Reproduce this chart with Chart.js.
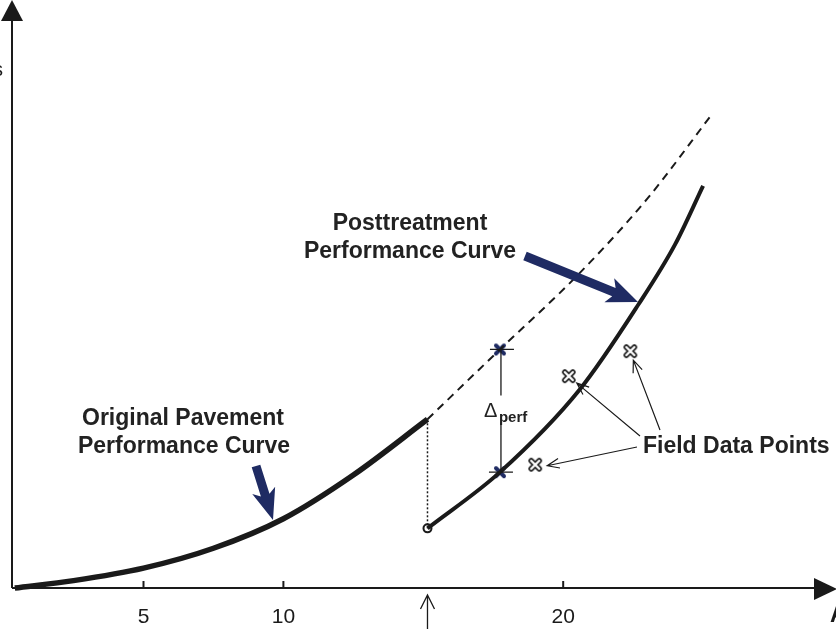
<!DOCTYPE html>
<html><head><meta charset="utf-8">
<script src="https://cdn.jsdelivr.net/npm/chart.js@4.4.0/dist/chart.umd.min.js"></script>
<style>html,body{margin:0;padding:0;background:#fff;}canvas{display:block;}</style>
</head><body>
<canvas id="c" width="836" height="629"></canvas>
<script>
// ---- data ----
const originalAge = [0.4, 2.5, 5, 7.5, 10, 12.5, 15.15];
const originalCondition = [0, 1.3, 3.5, 7.0, 12.2, 19.9, 29.7];
const extendedAge = [15.15, 17.74, 20.5, 23.0, 25.3];
const extendedCondition = [29.7, 42.0, 55.0, 68.5, 83.3];
const postAge = [15.15, 17.74, 20.6, 22.7, 24.0, 25.0];
const postCondition = [10.5, 20.4, 35.0, 50.0, 60.5, 70.8];
const fieldAge = [20.2, 22.4, 19.0];
const fieldCondition = [37.3, 41.7, 21.7];
const deltaAge = [17.74, 17.74];
const deltaCondition = [42.0, 20.4];
const tickValues = [5, 10, 20];
const tickLabels = ['5', '10', '20'];
const treatmentAge = 15.15;
const treatmentDrop = [29.7, 10.5];

const INK = '#1a1a1a';
const NAVY = '#1f2b63';
const FONT = '"Liberation Sans", Arial, Helvetica, sans-serif';

function pts(xs, ys){ return xs.map((x,i)=>({x:x, y:ys[i]})); }

function crossImage(fill, outline){
  const c = document.createElement('canvas'); c.width = 16; c.height = 16;
  const g = c.getContext('2d'); g.lineCap = 'round';
  const draw = (w, col)=>{ g.strokeStyle = col; g.lineWidth = w; g.beginPath();
    g.moveTo(4,4); g.lineTo(12,12); g.moveTo(12,4); g.lineTo(4,12); g.stroke(); };
  if (outline){ draw(5.5, outline); draw(2.4, fill); } else { draw(4, fill); }
  return c;
}
const fieldMarker = crossImage('#ffffff', INK);
const deltaMarker = crossImage(NAVY, null);

function fatArrow(ctx, x0, y0, x1, y1, shaft, headW, headL){
  const a = Math.atan2(y1-y0, x1-x0), L = Math.hypot(x1-x0, y1-y0);
  ctx.save(); ctx.translate(x0, y0); ctx.rotate(a); ctx.fillStyle = NAVY;
  ctx.beginPath();
  ctx.moveTo(0, -shaft/2); ctx.lineTo(L-headL, -shaft/2); ctx.lineTo(L-headL-5, -headW/2);
  ctx.lineTo(L, 0); ctx.lineTo(L-headL-5, headW/2); ctx.lineTo(L-headL, shaft/2);
  ctx.lineTo(0, shaft/2); ctx.closePath(); ctx.fill(); ctx.restore();
}
function openArrow(ctx, x0, y0, x1, y1, len, ang){
  const a = Math.atan2(y1-y0, x1-x0);
  ctx.beginPath(); ctx.moveTo(x0, y0); ctx.lineTo(x1, y1);
  ctx.moveTo(x1 - len*Math.cos(a-ang), y1 - len*Math.sin(a-ang)); ctx.lineTo(x1, y1);
  ctx.lineTo(x1 - len*Math.cos(a+ang), y1 - len*Math.sin(a+ang)); ctx.stroke();
}

const axesPlugin = {
  id: 'axesPlugin',
  beforeDatasetsDraw(chart){
    const {ctx, chartArea:a, scales:{x, y}} = chart;
    ctx.save();
    ctx.strokeStyle = INK; ctx.fillStyle = INK; ctx.lineWidth = 2;
    ctx.beginPath(); ctx.moveTo(a.left, a.bottom); ctx.lineTo(a.left, a.top); ctx.stroke();
    ctx.beginPath(); ctx.moveTo(a.left, a.top-20); ctx.lineTo(a.left-11, a.top+1); ctx.lineTo(a.left+11, a.top+1); ctx.closePath(); ctx.fill();
    ctx.beginPath(); ctx.moveTo(a.left, a.bottom); ctx.lineTo(a.right, a.bottom); ctx.stroke();
    ctx.beginPath(); ctx.moveTo(a.right+22, a.bottom+1); ctx.lineTo(a.right-1, a.bottom-10); ctx.lineTo(a.right-1, a.bottom+12); ctx.closePath(); ctx.fill();
    ctx.font = '21px ' + FONT; ctx.textAlign = 'center'; ctx.textBaseline = 'alphabetic';
    tickValues.forEach((v,i)=>{
      const px = x.getPixelForValue(v);
      ctx.beginPath(); ctx.moveTo(px, a.bottom); ctx.lineTo(px, a.bottom-7); ctx.stroke();
      ctx.fillText(tickLabels[i], px, a.bottom+35);
    });
    const tx = x.getPixelForValue(treatmentAge);
    ctx.lineWidth = 1.3;
    ctx.beginPath(); ctx.moveTo(tx, 629); ctx.lineTo(tx, a.bottom+7);
    ctx.moveTo(tx-7, a.bottom+21); ctx.lineTo(tx, a.bottom+7); ctx.lineTo(tx+7, a.bottom+21); ctx.stroke();
    ctx.font = 'bold 23px ' + FONT;
    ctx.textAlign = 'left'; ctx.fillText('Age', a.right+15, a.bottom+34);
    ctx.textAlign = 'right'; ctx.font = '20px ' + FONT; ctx.fillText('Distress', 3, 76);
    ctx.restore();
  },
  afterDatasetsDraw(chart){
    const {ctx, scales:{x, y}} = chart;
    ctx.save();
    ctx.fillStyle = '#222'; ctx.strokeStyle = INK;
    ctx.textAlign = 'center'; ctx.textBaseline = 'alphabetic';
    ctx.font = 'bold 23px ' + FONT;
    ctx.fillText('Posttreatment', 410, 230);
    ctx.fillText('Performance Curve', 410, 258);
    ctx.fillText('Original Pavement', 183, 425);
    ctx.fillText('Performance Curve', 184, 453);
    ctx.textAlign = 'left';
    ctx.fillText('Field Data Points', 643, 453);

    fatArrow(ctx, 525, 256, 638, 302, 9, 26, 26);
    fatArrow(ctx, 256, 466, 273, 520, 9, 24, 26);

    const dx = x.getPixelForValue(deltaAge[0]);
    const yTop = y.getPixelForValue(deltaCondition[0]);
    const yBot = y.getPixelForValue(deltaCondition[1]);
    ctx.lineWidth = 1.3;
    ctx.beginPath();
    ctx.moveTo(dx-10, yTop); ctx.lineTo(dx+14, yTop);
    ctx.moveTo(dx-11, yBot); ctx.lineTo(dx+13, yBot);
    ctx.moveTo(dx+1, yTop); ctx.lineTo(dx+1, yTop+46);
    ctx.moveTo(dx+1, yBot-50); ctx.lineTo(dx+1, yBot);
    ctx.stroke();
    ctx.font = '20px ' + FONT; ctx.textAlign = 'left';
    ctx.fillText('\u0394', dx-16, yTop+68);
    ctx.font = 'bold 15px ' + FONT;
    ctx.fillText('perf', dx-1, yTop+73);

    ctx.lineWidth = 1.2;
    const fp = fieldAge.map((v,i)=>({px:x.getPixelForValue(v), py:y.getPixelForValue(fieldCondition[i])}));
    openArrow(ctx, 640, 436, fp[0].px+8, fp[0].py+7, 13, 0.38);
    openArrow(ctx, 660, 430, fp[1].px+3, fp[1].py+9, 13, 0.38);
    openArrow(ctx, 637, 447, fp[2].px+12, fp[2].py+1, 13, 0.38);
    ctx.restore();
  }
};

new Chart(document.getElementById('c'), {
  type: 'scatter',
  data: { datasets: [
    { data: pts(originalAge, originalCondition), showLine: true, borderColor: INK, borderWidth: 5.5,
      pointRadius: 0, cubicInterpolationMode: 'monotone', clip: false },
    { data: pts(extendedAge, extendedCondition), showLine: true, borderColor: INK, borderWidth: 2,
      borderDash: [8, 6], pointRadius: 0, cubicInterpolationMode: 'monotone', clip: false },
    { data: pts(postAge, postCondition), showLine: true, borderColor: INK, borderWidth: 4,
      pointRadius: 0, cubicInterpolationMode: 'monotone', clip: false },
    { data: pts([treatmentAge, treatmentAge], treatmentDrop), showLine: true, borderColor: INK, borderWidth: 1.5,
      borderDash: [2, 2], pointRadius: 0, clip: false },
    { data: pts([treatmentAge], [treatmentDrop[1]]), pointStyle: 'circle', pointRadius: 4,
      backgroundColor: '#fff', borderColor: INK, borderWidth: 2, clip: false },
    { data: pts(deltaAge, deltaCondition), pointStyle: deltaMarker, pointRadius: 8, clip: false },
    { data: pts(fieldAge, fieldCondition), pointStyle: fieldMarker, pointRadius: 8, clip: false }
  ]},
  options: {
    responsive: false, animation: false, devicePixelRatio: 1,
    layout: { padding: { left: 12, right: 21, top: 20, bottom: 41 } },
    scales: {
      x: { type: 'linear', min: 0.3, max: 29, display: false },
      y: { type: 'linear', min: 0, max: 100, display: false }
    },
    plugins: { legend: { display: false }, tooltip: { enabled: false } },
    events: []
  },
  plugins: [axesPlugin]
});
</script>
</body></html>
